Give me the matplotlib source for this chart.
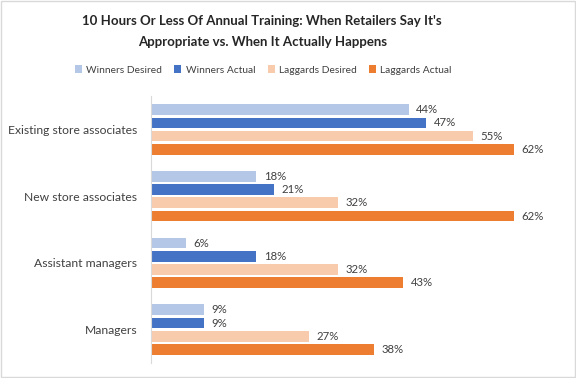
import numpy as np
import matplotlib.pyplot as plt
from matplotlib.patches import Rectangle

# data
categories = ["Existing store associates", "New store associates",
              "Assistant managers", "Managers"]
series_names = ["Winners Desired", "Winners Actual",
                "Laggards Desired", "Laggards Actual"]
winners_desired = [44, 18, 6, 9]
winners_actual = [47, 21, 18, 9]
laggards_desired = [55, 32, 32, 27]
laggards_actual = [62, 62, 43, 38]

colors = ["#B4C7E7", "#4472C4", "#F8CBAD", "#ED7D31"]

plt.rcParams['font.family'] = ['Lato', 'DejaVu Sans']

fig = plt.figure(figsize=(5.76, 3.78), dpi=100)
ax = fig.add_axes([0.262, 0.0397, 0.712, 0.706])

series = [winners_desired, winners_actual, laggards_desired, laggards_actual]
y = np.arange(len(categories))
pitch = 0.198
height = 0.16
for i, (name, vals, col) in enumerate(zip(series_names, series, colors)):
    pos = y + (i - 1.5) * pitch
    ax.barh(pos, vals, height=height, color=col, label=name)
    for p, v in zip(pos, vals):
        ax.text(v + 1.3, p, f"{v}%", va='center', ha='left',
                fontsize=8.2, color='#404040')

ax.set_xlim(0, 70)
ax.set_ylim(len(categories) - 0.5, -0.5)
ax.set_yticks(y)
ax.set_yticklabels(categories, fontsize=8.7, color='#404040')
ax.tick_params(axis='y', length=0, pad=10)
ax.set_xticks([])
for s in ['top', 'right', 'bottom']:
    ax.spines[s].set_visible(False)
ax.spines['left'].set_color('#d9d9d9')

fig.text(0.455, 0.945, "10 Hours Or Less Of Annual Training: When Retailers Say It's",
         ha='center', va='center', fontsize=9.5, fontweight='bold', color='#262626')
fig.text(0.455, 0.89, "Appropriate vs. When It Actually Happens",
         ha='center', va='center', fontsize=9.5, fontweight='bold', color='#262626')

leg = fig.legend(loc='center', bbox_to_anchor=(0.457, 0.815), ncol=4, frameon=False,
                 fontsize=7.4, handlelength=0.7, handleheight=0.7,
                 handletextpad=0.4, columnspacing=1.2)
for t in leg.get_texts():
    t.set_color('#404040')

fig.patches.append(Rectangle((0.002, 0.003), 0.996, 0.994, transform=fig.transFigure,
                             fill=False, edgecolor='#d9d9d9', linewidth=1))

fig.savefig("out.png", dpi=100)
